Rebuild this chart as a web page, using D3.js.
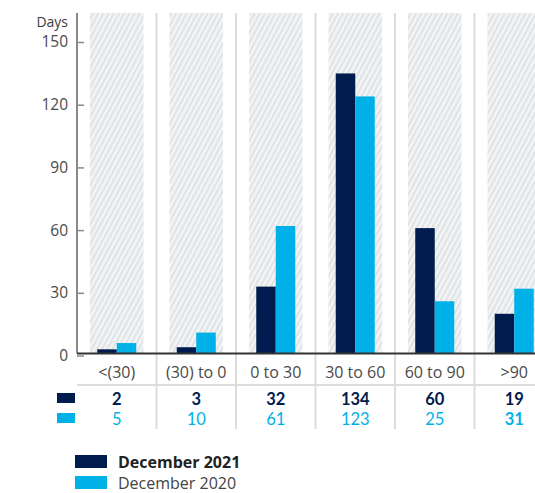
<!DOCTYPE html>
<html>
<head>
<meta charset="utf-8">
<script src="https://cdn.jsdelivr.net/npm/d3@7"></script>
<style>
  html, body { margin: 0; padding: 0; background: #fff; overflow: hidden; }
  svg { display: block; font-family: "Open Sans", Lato, sans-serif; }
</style>
</head>
<body>
<svg id="chart" width="535" height="493"></svg>
<script>
// Ageing buckets and the two snapshots of days outstanding
const categories = ["<(30)", "(30) to 0", "0 to 30", "30 to 60", "60 to 90", ">90"];
const dec2021 = [2, 3, 32, 134, 60, 19];
const dec2020 = [5, 10, 61, 123, 25, 31];
const seriesNames = ["December 2021", "December 2020"];
const yTicks = [0, 30, 60, 90, 120, 150];
const yLabel = "Days";

const NAVY = "#001c4e";
const CYAN = "#00b1e7";

const svg = d3.select("#chart");

// hatched background pattern for each bucket
const defs = svg.append("defs");
const pat = defs.append("pattern")
  .attr("id", "hatch")
  .attr("patternUnits", "userSpaceOnUse")
  .attr("width", 4.6).attr("height", 10)
  .attr("patternTransform", "rotate(28)");
pat.append("rect").attr("width", 4.6).attr("height", 10).attr("fill", "#f3f4f5");
pat.append("rect").attr("width", 2).attr("height", 10).attr("fill", "#e1e2e4");

const plotTop = 13, colW = 79.5, plotLeft = 77;
const x = d3.scaleBand().domain(categories).range([plotLeft, plotLeft + colW * categories.length]);
const y = d3.scaleLinear().domain([0, 150]).range([355.5, 42]);
const baseY = 353.5;
const inner = d3.scaleBand().domain([0, 1]).range([0, 39]);

// hatched panels
svg.append("g").selectAll("rect").data(categories).join("rect")
  .attr("x", d => x(d) + 13)
  .attr("y", plotTop)
  .attr("width", x.bandwidth() - 26)
  .attr("height", baseY - plotTop)
  .attr("fill", "url(#hatch)");

// column separators running through the plot and the value table
svg.append("g").selectAll("line").data(categories.slice(1)).join("line")
  .attr("x1", d => x(d)).attr("x2", d => x(d))
  .attr("y1", plotTop).attr("y2", 429)
  .attr("stroke", "#dcdcdc").attr("stroke-width", 2);

// bars
const series = [dec2021, dec2020];
const colors = [NAVY, CYAN];
series.forEach((vals, si) => {
  svg.append("g").selectAll("rect").data(vals).join("rect")
    .attr("x", (d, i) => x(categories[i]) + x.bandwidth() / 2 - 19.5 + inner(si))
    .attr("y", d => y(d) - (y(0) - baseY))
    .attr("width", inner.bandwidth())
    .attr("height", d => y(0) - y(d))
    .attr("fill", colors[si]);
});

// y axis
const yAxis = d3.axisLeft(y).tickValues(yTicks).tickSize(-7).tickPadding(10);
const ya = svg.append("g").attr("transform", `translate(${plotLeft},0)`).call(yAxis);
ya.select(".domain").remove();
ya.selectAll(".tick line").attr("stroke", "#8a8a8a").attr("stroke-width", 1.5);
ya.selectAll(".tick text")
  .attr("x", -9)
  .attr("fill", "#4a4a4a")
  .style("font-size", "15.5px")
  .style("font-family", "'Open Sans', sans-serif");
svg.append("line")
  .attr("x1", plotLeft).attr("x2", plotLeft)
  .attr("y1", plotTop).attr("y2", baseY)
  .attr("stroke", "#8a8a8a").attr("stroke-width", 2);
svg.append("text")
  .attr("x", 68).attr("y", 27)
  .attr("text-anchor", "end")
  .attr("fill", "#3a3a3a")
  .style("font-size", "14px")
  .text(yLabel);

// baseline
svg.append("line")
  .attr("x1", plotLeft).attr("x2", 535)
  .attr("y1", baseY).attr("y2", baseY)
  .attr("stroke", "#333").attr("stroke-width", 2);

// category labels
svg.append("g").selectAll("text").data(categories).join("text")
  .attr("x", d => x(d) + x.bandwidth() / 2)
  .attr("y", 378)
  .attr("text-anchor", "middle")
  .attr("fill", "#4a4a4a")
  .style("font-size", "16px")
  .text(d => d);

// table divider
svg.append("line")
  .attr("x1", plotLeft).attr("x2", 535)
  .attr("y1", 385).attr("y2", 385)
  .attr("stroke", "#dcdcdc").attr("stroke-width", 2);

// value rows with their colour keys
const rowY = [405, 425];
series.forEach((vals, si) => {
  svg.append("rect")
    .attr("x", 57).attr("y", rowY[si] - 12)
    .attr("width", 18).attr("height", 10)
    .attr("fill", colors[si]);
  svg.append("g").selectAll("text").data(vals).join("text")
    .attr("x", (d, i) => x(categories[i]) + x.bandwidth() / 2)
    .attr("y", rowY[si])
    .attr("text-anchor", "middle")
    .attr("fill", colors[si])
    .style("font-family", "Lato, sans-serif")
    .style("font-size", "16.5px")
    .style("font-weight", (d, i) => (si === 0 || i === categories.length - 1) ? 700 : 400)
    .text(d => d);
});

// legend
const legY = [455, 476];
seriesNames.forEach((name, si) => {
  svg.append("rect")
    .attr("x", 75).attr("y", legY[si])
    .attr("width", 32).attr("height", 13)
    .attr("fill", colors[si]);
  svg.append("text")
    .attr("x", 118).attr("y", legY[si] + 12.5)
    .attr("fill", si === 0 ? "#222" : "#444")
    .style("font-size", "16px")
    .style("font-weight", si === 0 ? 700 : 400)
    .text(name);
});
</script>
</body>
</html>
